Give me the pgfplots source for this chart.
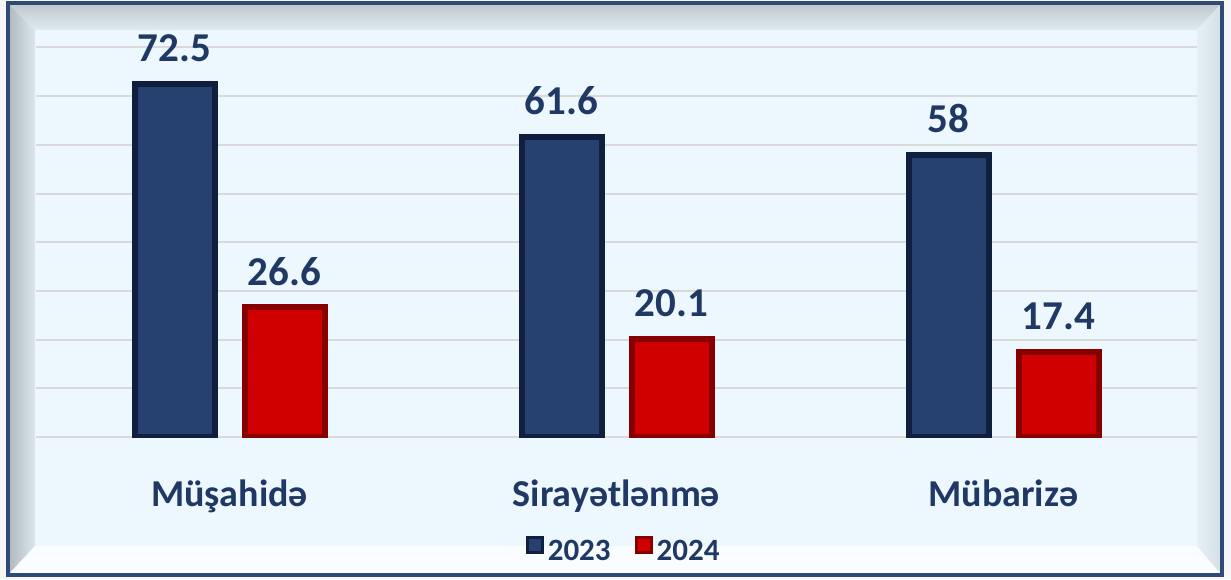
\documentclass[border=0pt]{standalone}
\usepackage{pgfplots}
\pgfplotsset{compat=1.18}
\usepackage{fontspec}
\setmainfont{Carlito}
\definecolor{txt}{HTML}{1F3864}
\definecolor{navyD}{HTML}{101F3D}
\definecolor{navyM}{HTML}{26416F}
\definecolor{redD}{HTML}{860000}
\definecolor{redM}{HTML}{D00000}
\definecolor{bgin}{HTML}{ECF8FE}
\definecolor{gridc}{HTML}{D9D9D9}
\definecolor{frameb}{HTML}{2E4A78}

\begin{document}
\begin{tikzpicture}
% frame, in pixel units of the reference
\begin{scope}[x=0.5pt,y=-0.5pt]
  \fill[gray!7] (0,0) rectangle (1231,579);
  \shade[top color=black!20!bgin, bottom color=black!5!bgin]
    (8,3) -- (1222,3) -- (1197,30) -- (35,30) -- cycle;
  \shade[left color=black!26!bgin, right color=black!7!bgin]
    (8,3) -- (35,30) -- (35,546) -- (8,575) -- cycle;
  \fill[white!70!bgin] (8,575) -- (35,546) -- (1197,546) -- (1222,575) -- cycle;
  \shade[left color=black!3!bgin, right color=black!10!bgin]
    (1222,3) -- (1197,30) -- (1197,546) -- (1222,575) -- cycle;
  \fill[bgin] (35,30) rectangle (1197,546);
  \draw[frameb, line width=1.6] (8,3) rectangle (1222,575);
\end{scope}
\useasboundingbox (0,0) rectangle (615.5pt,-289.5pt);

\begin{axis}[
  at={(18pt,-218.5pt)}, anchor=south west,
  scale only axis, width=580.5pt, height=194.8pt,
  ymin=0, ymax=80, xmin=-0.5, xmax=2.5,
  axis line style={draw=none}, tick style={draw=none},
  ytick={0,10,...,80}, yticklabels={},
  ymajorgrids, grid style={gridc, line width=1pt},
  xtick={0,1,2},
  xticklabels={Müşahidə, Sirayətlənmə, Mübarizə},
  xticklabel style={font=\fontsize{19}{22}\selectfont\bfseries, text=txt,
                    anchor=base, yshift=-30.5pt},
  ybar, bar width=40pt,
  nodes near coords,
  nodes near coords style={font=\fontsize{20.5}{24}\selectfont\bfseries,
                           text=txt, anchor=south, inner sep=0pt, yshift=9.5pt,
                           /pgf/number format/assume math mode=true},
  legend style={at={(0.507,-0.295)}, anchor=center, draw=none, fill=none,
                legend columns=2, font=\fontsize{15.5}{18}\selectfont\bfseries,
                text=txt,
                /tikz/every even column/.append style={column sep=10pt}},
  legend image code/.code={\fill[#1, line width=1pt] (0.5pt,-0.5pt) rectangle (8pt,7pt);
                           \draw[#1, line width=1.5pt] (0.5pt,-0.5pt) rectangle (8pt,7pt);},
]
\addplot[fill=navyM, draw=navyD, line width=3pt, bar shift=-27.5pt]
  coordinates {(0,72.5) (1,61.6) (2,58)};
\addplot[fill=redM, draw=redD, line width=3pt, bar shift=27.5pt]
  coordinates {(0,26.6) (1,20.1) (2,17.4)};
\legend{2023, 2024}
\end{axis}
\end{tikzpicture}
\end{document}
